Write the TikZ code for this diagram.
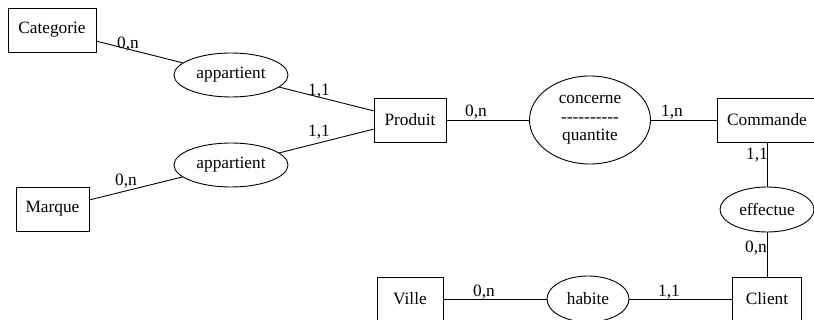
\documentclass[tikz,border=0pt]{standalone}
\usepackage{fontspec}
\setmainfont{Liberation Serif}
\usetikzlibrary{shapes.geometric}

\tikzset{
  erfont/.style={font=\fontsize{17.3}{18.5}\selectfont},
  entity/.style={erfont, draw, rectangle, inner sep=0pt,
                 minimum height=44pt, line width=0.9pt},
  assoc/.style={erfont, draw, ellipse, inner sep=0pt, align=center,
                line width=0.9pt},
  link/.style={line width=0.9pt},
  card/.style={erfont, anchor=base, inner sep=0pt}
}

\begin{document}
\begin{tikzpicture}[x=1pt, y=-1pt]
  \clip (0,0) rectangle (814,320);

  % entities
  \node[entity, minimum width=88pt]  (cat)  at (52,30)    {Categorie};
  \node[entity, minimum width=73pt]  (marq) at (52.5,209) {Marque};
  \node[entity, minimum width=72pt]  (prod) at (410,120)  {Produit};
  \node[entity, minimum width=100pt] (cmd)  at (767,120)  {Commande};
  \node[entity, minimum width=66pt]  (ville) at (410,299) {Ville};
  \node[entity, minimum width=69pt]  (cli)  at (767,299)  {Client};

  % associations
  \node[assoc, minimum width=114pt, minimum height=44pt] (app1) at (231,75)  {appartient};
  \node[assoc, minimum width=114pt, minimum height=44pt] (app2) at (231,165) {appartient};
  \node[assoc, minimum width=121pt, minimum height=88pt] (conc) at (590,120)
       {concerne\\-{}-{}-{}-{}-{}-{}-{}-{}-{}-\\quantite};
  \node[assoc, minimum width=94pt, minimum height=45pt]  (eff)  at (767,209.5) {effectue};
  \node[assoc, minimum width=82pt, minimum height=46pt]  (hab)  at (588,299) {habite};

  % links
  \draw[link] (cat)  -- (app1);
  \draw[link] (app1) -- (prod);
  \draw[link] (marq) -- (app2);
  \draw[link] (app2) -- (prod);
  \draw[link] (prod) -- (conc);
  \draw[link] (conc) -- (cmd);
  \draw[link] (cmd)  -- (eff);
  \draw[link] (eff)  -- (cli);
  \draw[link] (ville) -- (hab);
  \draw[link] (hab)  -- (cli);

  % cardinalities
  \node[card] (c1)  at (128,49)  {0,n};
  \node[card] (c2)  at (319,96)  {1,1};
  \node[card] (c3)  at (126,186) {0,n};
  \node[card] (c4)  at (319,137) {1,1};
  \node[card] (c5)  at (476,117) {0,n};
  \node[card] (c6)  at (672,117) {1,n};
  \node[card] (c7)  at (757,160) {1,1};
  \node[card] (c8)  at (756,253) {0,n};
  \node[card] (c9)  at (484,297) {0,n};
  \node[card] (c10) at (669,297) {1,1};
\end{tikzpicture}
\end{document}
